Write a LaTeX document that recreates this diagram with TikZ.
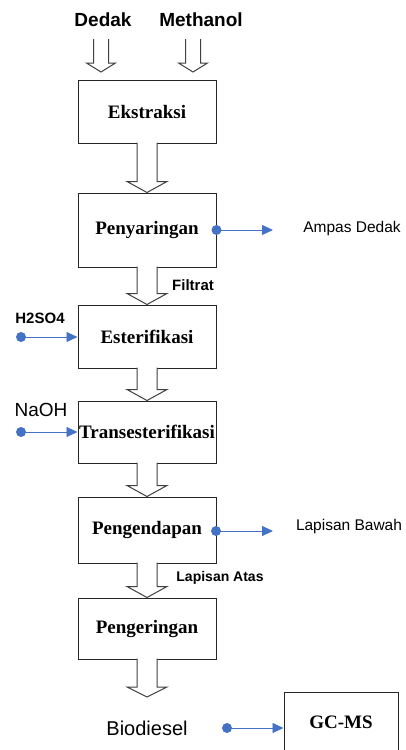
\documentclass[tikz,border=0pt]{standalone}
\usepackage{fontspec}
\setmainfont{Liberation Serif}
\setsansfont{Liberation Sans}
\usetikzlibrary{calc,arrows.meta,positioning}
\definecolor{flowblue}{HTML}{4472C4}
\tikzset{
  stage/.style={draw=black!85,line width=1pt,minimum width=138pt,inner sep=0pt,
    font=\fontsize{19}{21}\selectfont\bfseries},
  feed/.style={font=\sffamily\bfseries\fontsize{19}{22}\selectfont},
  side/.style={font=\sffamily\fontsize{15.5}{18}\selectfont},
  sidebold/.style={font=\sffamily\bfseries\fontsize{15}{18}\selectfont},
  dot/.style={circle,fill=flowblue,inner sep=0pt,minimum size=10pt},
  tap/.style={draw=flowblue,line width=0.9pt,-{Triangle[length=11pt,width=10pt]}},
  fat/.style={draw=black!75,line width=1pt,fill=white}
}
% hollow block arrow: from, tip, shaft half width, head half width, head length
\newcommand{\flowarrow}[5]{%
  \draw[fat] ($(#1)+(-#3,-1)$) -- ($(#2)+(-#3,-#5)$) -- ($(#2)+(-#4,-#5)$) -- (#2)
    -- ($(#2)+(#4,-#5)$) -- ($(#2)+(#3,-#5)$) -- ($(#1)+(#3,-1)$);}

\begin{document}
\begin{tikzpicture}[x=1pt,y=-1pt]
  \useasboundingbox (0,0) rectangle (406,750);

  % feeds
  \node[feed] (dedak) at (103,20) {Dedak};
  \node[feed] (methanol) at (201,20) {Methanol};
  \coordinate (dedakTop) at (101,40);
  \coordinate (dedakTip) at (101,72);
  \coordinate (methanolTop) at (193,40);
  \coordinate (methanolTip) at (193,72);
  \flowarrow{dedakTop}{dedakTip}{7.5}{14.5}{9}
  \flowarrow{methanolTop}{methanolTip}{7.5}{14.5}{9}

  % process stages
  \node[stage,minimum height=63pt] (ekstraksi) at (147,111.5) {Ekstraksi};
  \node[stage,minimum height=74pt] (penyaringan) at (147,230) {Penyaringan};
  \node[stage,minimum height=63pt] (esterifikasi) at (147,336.5) {Esterifikasi};
  \node[stage,minimum height=62pt] (trans) at (147,432) {Transesterifikasi};
  \node[stage,minimum height=66pt] (pengendapan) at (147,530) {Pengendapan};
  \node[stage,minimum height=61pt] (pengeringan) at (147,628.5) {Pengeringan};
  \node[stage,minimum width=114pt,minimum height=60pt] (gcms) at (341,722) {GC-MS};

  \flowarrow{ekstraksi.south}{penyaringan.north}{10}{20}{11}
  \flowarrow{penyaringan.south}{esterifikasi.north}{10}{20}{11}
  \flowarrow{esterifikasi.south}{trans.north}{10}{20}{11}
  \flowarrow{trans.south}{pengendapan.north}{10}{20}{11}
  \flowarrow{pengendapan.south}{pengeringan.north}{10}{20}{11}
  \coordinate (bioTip) at (147,697);
  \flowarrow{pengeringan.south}{bioTip}{10}{20}{10}

  % labels on the main line
  \node[sidebold] (filtrat) at (193,285) {Filtrat};
  \node[font=\sffamily\bfseries\fontsize{14}{17}\selectfont] (atas) at (220,578) {Lapisan Atas};
  \node[font=\sffamily\fontsize{20}{24}\selectfont] (biodiesel) at (147,728) {Biodiesel};

  % side streams
  \node[dot] (ampasDot) at (penyaringan.east) {};
  \coordinate (ampasEnd) at (273,230);
  \draw[tap] (ampasDot.center) -- (ampasEnd);
  \node[side] (ampas) at (352,228) {Ampas Dedak};

  \node[dot] (bawahDot) at (216,531) {};
  \coordinate (bawahEnd) at (273,531);
  \draw[tap] (bawahDot.center) -- (bawahEnd);
  \node[side] (bawah) at (349,526) {Lapisan Bawah};

  \node[sidebold] (h2so4) at (40,318) {H2SO4};
  \node[dot] (h2so4Dot) at (21,337) {};
  \draw[tap] (h2so4Dot.center) -- (h2so4Dot -| esterifikasi.west);

  \node[font=\sffamily\fontsize{19}{22}\selectfont] (naoh) at (41,410) {NaOH};
  \node[dot] (naohDot) at (21,432) {};
  \draw[tap] (naohDot.center) -- (naohDot -| trans.west);

  \node[dot] (bioDot) at (227,728) {};
  \draw[tap] (bioDot.center) -- (bioDot -| gcms.west);
\end{tikzpicture}
\end{document}
